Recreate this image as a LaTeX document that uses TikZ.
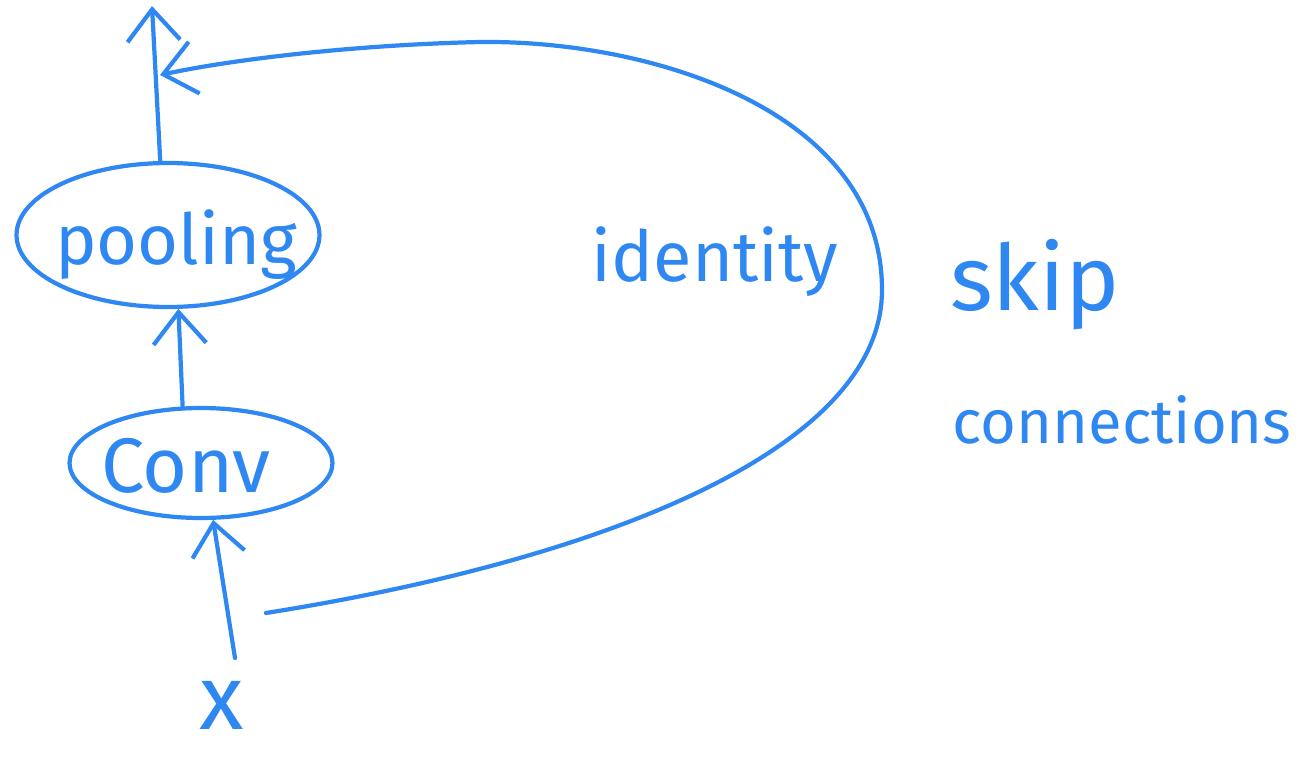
\documentclass[tikz,border=0pt]{standalone}
\usepackage{fontspec}
\setmainfont{Fira Sans}
\usetikzlibrary{shapes.geometric,arrows.meta}
\definecolor{ink}{HTML}{2F88F2}
\tikzset{
  stroke/.style={draw=ink, line width=2.4pt, line cap=round, line join=round},
  arr/.style={stroke, -{Straight Barb[length=18pt,width=30pt,line width=2.4pt]}},
  blob/.style={stroke, ellipse, inner sep=0pt},
  hand/.style={text=ink, inner sep=0pt},
}
\begin{document}
\begin{tikzpicture}[x=0.02cm,y=-0.02cm]
\useasboundingbox (0,0) rectangle (1312,757);
% blocks
\node[blob, minimum width=6.06cm, minimum height=2.88cm] (pool) at (168,235) {};
\node[hand, font=\fontsize{40}{44}\selectfont] (pooltxt) at (176,245) {pooling};
\node[blob, minimum width=5.26cm, minimum height=2.2cm] (conv) at (201,463) {};
\node[hand, font=\fontsize{44}{48}\selectfont] (convtxt) at (186,466) {Conv};
\node[hand, font=\fontsize{52}{56}\selectfont] (x) at (222,705) {x};
% main flow
\coordinate (xin) at (235,658);
\coordinate (out) at (152,6);
\draw[arr] (xin) -- (conv.-78);
\draw[arr] (conv.108) -- (pool.-82);
\draw[arr] (pool.96) -- (out);
% skip connection
\coordinate (skipstart) at (266,613);
\coordinate (join) at (160,75);
\draw[arr] (skipstart) .. controls (600,560) and (882,450) .. (882,290)
  .. controls (882,110) and (650,40) .. (480,42)
  .. controls (350,45) and (230,60) .. (join);
% labels
\node[hand, font=\fontsize{40}{44}\selectfont] (ident) at (715,262) {identity};
\node[hand, font=\fontsize{52}{56}\selectfont] (skip) at (1035,285) {skip};
\node[hand, font=\fontsize{35}{40}\selectfont] (conn) at (1122,420) {connections};
\end{tikzpicture}
\end{document}
